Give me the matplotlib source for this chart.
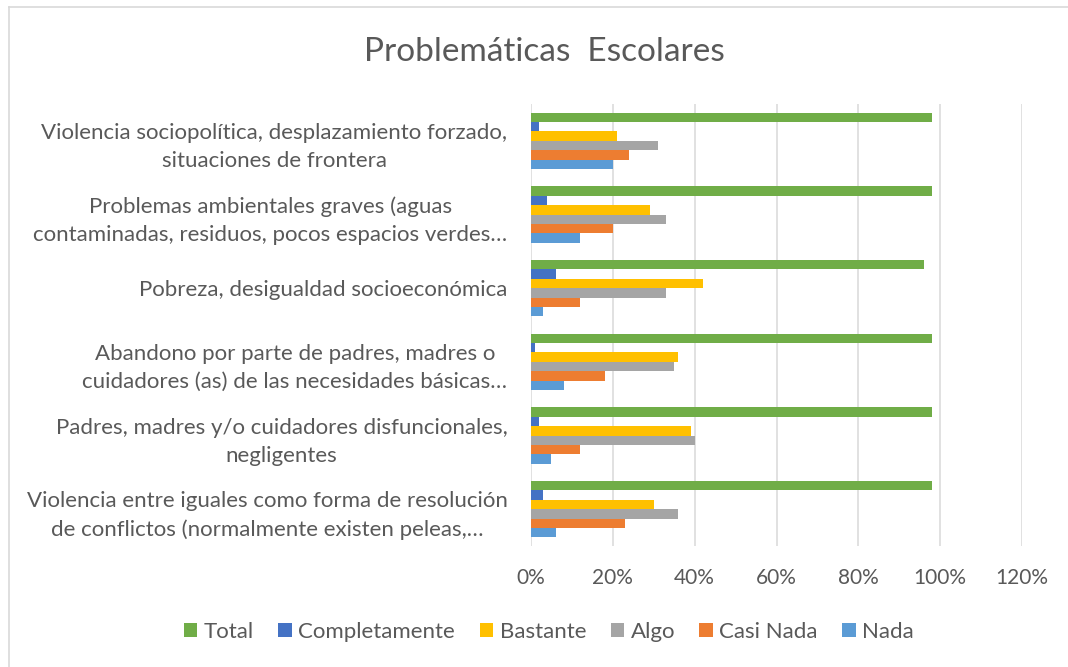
"""Problemáticas Escolares - grouped horizontal bars."""

import matplotlib
matplotlib.use("Agg")
import matplotlib.pyplot as plt
from matplotlib.lines import Line2D
from matplotlib.ticker import FuncFormatter
import numpy as np

categories = [
    "Violencia sociopolítica, desplazamiento forzado,\nsituaciones de frontera",
    "Problemas ambientales graves (aguas\ncontaminadas, residuos, pocos espacios verdes…",
    "Pobreza, desigualdad socioeconómica",
    "Abandono por parte de padres, madres o\ncuidadores (as) de las necesidades básicas…",
    "Padres, madres y/o cuidadores disfuncionales,\nnegligentes",
    "Violencia entre iguales como forma de resolución\nde conflictos (normalmente existen peleas,…",
]

series_names = ["Total", "Completamente", "Bastante", "Algo", "Casi Nada", "Nada"]
total = [0.98, 0.98, 0.96, 0.98, 0.98, 0.98]
completamente = [0.02, 0.04, 0.06, 0.01, 0.02, 0.03]
bastante = [0.21, 0.29, 0.42, 0.36, 0.39, 0.30]
algo = [0.31, 0.33, 0.33, 0.35, 0.40, 0.36]
casi_nada = [0.24, 0.20, 0.12, 0.18, 0.12, 0.23]
nada = [0.20, 0.12, 0.03, 0.08, 0.05, 0.06]

colors = ["#70AD47", "#4472C4", "#FFC000", "#A5A5A5", "#ED7D31", "#5B9BD5"]
TEXT = "#595959"
FONT = ["Lato", "DejaVu Sans"]

plt.rcParams["font.family"] = FONT

fig = plt.figure(figsize=(10.68, 6.67), dpi=100)
# chart-area border (only top and left edges fall inside the crop)
x0, y0 = 8.5 / 1068, 1 - 6.5 / 667
fig.lines.append(Line2D([x0, 1], [y0, y0], transform=fig.transFigure,
                        color="#D9D9D9", linewidth=1.2))
fig.lines.append(Line2D([x0, x0], [0, y0], transform=fig.transFigure,
                        color="#D9D9D9", linewidth=1.2))

ax = fig.add_axes([531 / 1068, 1 - 546 / 667, 491 / 1068, 442 / 667])

values = [total, completamente, bastante, algo, casi_nada, nada]
n_cat = len(categories)
ypos = np.arange(n_cat)[::-1]
h = 0.128
for i, (name, vals, col) in enumerate(zip(series_names, values, colors)):
    offset = (2.5 - i) * h
    ax.barh(ypos + offset, vals, height=h, color=col, label=name, zorder=3)

ax.set_xlim(0, 1.2)
ax.set_ylim(-0.5, n_cat - 0.5)
ax.set_xticks(np.arange(0, 1.21, 0.2))
ax.xaxis.set_major_formatter(FuncFormatter(lambda v, _: f"{v * 100:.0f}%"))
ax.grid(axis="x", color="#D9D9D9", linewidth=1.1, zorder=0)
ax.set_yticks(ypos)
ax.set_yticklabels(categories, multialignment="center", linespacing=1.5)
ax.tick_params(axis="y", length=0, pad=17, labelsize=16, labelcolor=TEXT)
ax.tick_params(axis="x", length=0, pad=16, labelsize=15, labelcolor=TEXT)
for spine in ax.spines.values():
    spine.set_visible(False)

fig.text(544 / 1068, 1 - 52 / 667, "Problemáticas  Escolares", ha="center",
         va="center", fontsize=24, color=TEXT)

fig.legend(loc="center", bbox_to_anchor=(549 / 1068, 1 - 632 / 667), ncol=6,
           frameon=False, fontsize=16, handlelength=0.6, handleheight=0.6,
           columnspacing=1.1, handletextpad=0.3, labelcolor=TEXT)

fig.savefig("out.png", dpi=100)
